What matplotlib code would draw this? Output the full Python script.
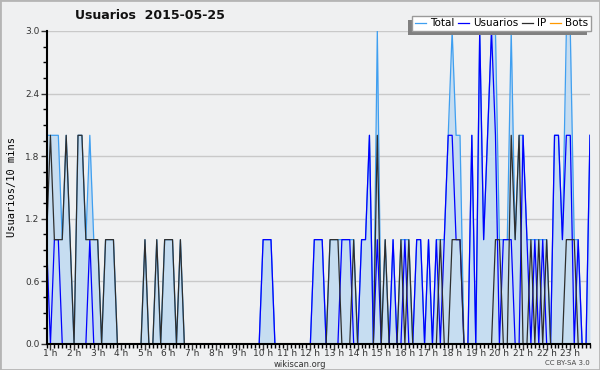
import numpy as np
import matplotlib
matplotlib.use("Agg")
import matplotlib.pyplot as plt
from matplotlib.patches import Rectangle
from matplotlib.ticker import MultipleLocator, FixedLocator

# 10-minute samples, first one at 00:50
start_hour = 50 / 60
users = [1, 0, 1, 1, 0, 0, 0, 0, 0, 0, 0, 1, 0, 0, 0, 0, 0, 0, 0, 0,
         0, 0, 0, 0, 0, 0, 0, 0, 0, 0, 0, 0, 0, 0, 0, 0, 0, 0, 0, 0,
         0, 0, 0, 0, 0, 0, 0, 0, 0, 0, 0, 0, 0, 0, 0, 1, 1, 1, 0, 0,
         0, 0, 0, 0, 0, 0, 0, 0, 1, 1, 1, 0, 0, 0, 0, 1, 1, 1, 0, 0,
         1, 1, 2, 0, 1, 0, 0, 0, 1, 0, 0, 1, 0, 0, 1, 1, 0, 1, 0, 1,
         0, 1, 2, 2, 1, 1, 0, 0, 2, 0, 3, 1, 2, 3, 2, 0, 1, 1, 1, 0,
         0, 2, 1, 0, 1, 0, 1, 0, 0, 2, 2, 1, 2, 2, 0, 1, 0, 0, 2]
ip = [1, 2, 1, 1, 1, 2, 1, 0, 2, 2, 1, 1, 1, 1, 0, 1, 1, 1, 0, 0,
      0, 0, 0, 0, 0, 1, 0, 0, 1, 0, 1, 1, 1, 0, 1, 0, 0, 0, 0, 0,
      0, 0, 0, 0, 0, 0, 0, 0, 0, 0, 0, 0, 0, 0, 0, 0, 0, 0, 0, 0,
      0, 0, 0, 0, 0, 0, 0, 0, 0, 0, 0, 0, 1, 1, 1, 0, 0, 0, 1, 0,
      0, 0, 0, 0, 2, 0, 1, 0, 0, 0, 1, 0, 1, 0, 0, 0, 0, 0, 0, 0,
      1, 0, 0, 1, 1, 1, 0, 0, 0, 0, 0, 0, 0, 0, 1, 1, 0, 0, 2, 1,
      2, 0, 0, 1, 0, 1, 0, 1, 0, 0, 0, 0, 1, 1, 1, 0, 0, 0, 0]
total = [2, 2, 2, 2, 1, 2, 1, 0, 2, 2, 1, 2, 1, 1, 0, 1, 1, 1, 0, 0,
         0, 0, 0, 0, 0, 1, 0, 0, 1, 0, 1, 1, 1, 0, 1, 0, 0, 0, 0, 0,
         0, 0, 0, 0, 0, 0, 0, 0, 0, 0, 0, 0, 0, 0, 0, 1, 1, 1, 0, 0,
         0, 0, 0, 0, 0, 0, 0, 0, 1, 1, 1, 0, 1, 1, 1, 1, 1, 1, 1, 0,
         1, 1, 2, 0, 3, 0, 1, 0, 1, 0, 1, 1, 1, 0, 1, 1, 0, 1, 0, 1,
         1, 1, 2, 3, 2, 2, 0, 0, 2, 0, 3, 1, 2, 3, 3, 1, 1, 1, 3, 1,
         2, 2, 1, 1, 1, 1, 1, 1, 0, 2, 2, 1, 3, 3, 1, 1, 0, 0, 2]
bots = [0] * len(total)
hour_ticks = list(range(1, 24))
hour_labels = [f"{h} h" for h in hour_ticks]

t = start_hour + np.arange(len(total)) / 6

BG = "#eff0f1"
COL = {"total": "#3f9ff0", "fill": "#c6ddf1", "users": "#0000ff",
       "ip": "#2e2e2e", "bots": "#ff9900"}

fig = plt.figure(figsize=(6, 3.7), dpi=100, facecolor=BG)
ax = fig.add_axes([0.0775, 0.0703, 0.9058, 0.8460], facecolor=BG)

ax.fill_between(t, total, color=COL["fill"], lw=0, zorder=1)
ax.plot(t, total, color=COL["total"], lw=0.9, zorder=2, label="Total")
ax.plot(t, users, color=COL["users"], lw=0.9, zorder=3, label="Usuarios")
ax.plot(t, ip, color=COL["ip"], lw=0.9, zorder=4, label="IP")
ax.plot(t, bots, color=COL["bots"], lw=0.9, zorder=1.5, label="Bots")

ax.set_xlim(t[0], t[-1])
ax.set_ylim(0, 3.0)
ax.yaxis.set_major_locator(MultipleLocator(0.6))
ax.yaxis.set_minor_locator(MultipleLocator(0.15))
ax.yaxis.set_major_formatter(matplotlib.ticker.FormatStrFormatter("%.1f"))
ax.xaxis.set_major_locator(FixedLocator(hour_ticks))
ax.set_xticklabels(hour_labels)
ax.xaxis.set_minor_locator(MultipleLocator(1 / 6))
ax.grid(axis="y", color="#c9c9c9", lw=1.0, zorder=0)
ax.set_axisbelow(True)
for s in ("top", "right"):
    ax.spines[s].set_visible(False)
for s in ("left", "bottom"):
    ax.spines[s].set_linewidth(1.5)
    ax.spines[s].set_zorder(6)
ax.tick_params(axis="both", which="major", length=4, width=1,
               labelsize=6.5, colors="#333333", pad=1)
ax.tick_params(axis="both", which="minor", length=3, width=1)
ax.tick_params(axis="x", which="major", pad=-0.5)

ax.set_ylabel("Usuarios/10 mins", family="DejaVu Sans Mono", fontsize=7.5,
              labelpad=6)
fig.text(0.25, 0.957, "Usuarios  2015-05-25", ha="center", va="center",
         fontsize=9, fontweight="bold", color="#111111")
fig.text(0.5, 0.016, "wikiscan.org", ha="center", va="center",
         fontsize=6, color="#333333")
fig.text(0.983, 0.02, "CC BY-SA 3.0", ha="right", va="center",
         fontsize=5, color="#444444")

leg = fig.legend(loc="upper right", bbox_to_anchor=(0.994, 0.972), ncol=4,
                 fontsize=7.5, handlelength=1.1, handletextpad=0.4,
                 columnspacing=0.3, borderpad=0.25, frameon=True,
                 fancybox=False, edgecolor="#9a9a9a", framealpha=1)
leg.get_frame().set_linewidth(1.0)
leg.set_zorder(6)

# legend shadow (down-left), drawn behind the legend box
fig.canvas.draw()
bb = leg.get_window_extent().transformed(fig.transFigure.inverted())
dx, dy = 4 / 600, 4 / 370
fig.add_artist(Rectangle((bb.x0 - dx, bb.y0 - dy), bb.width, bb.height,
                         transform=fig.transFigure, facecolor="#808080",
                         edgecolor="none", zorder=5))

# outer border
fig.add_artist(Rectangle((0, 0), 1, 1, transform=fig.transFigure,
                         facecolor="none", edgecolor="#b5b5b5", lw=2,
                         zorder=10))

fig.savefig("out.png", dpi=100, facecolor=BG)
